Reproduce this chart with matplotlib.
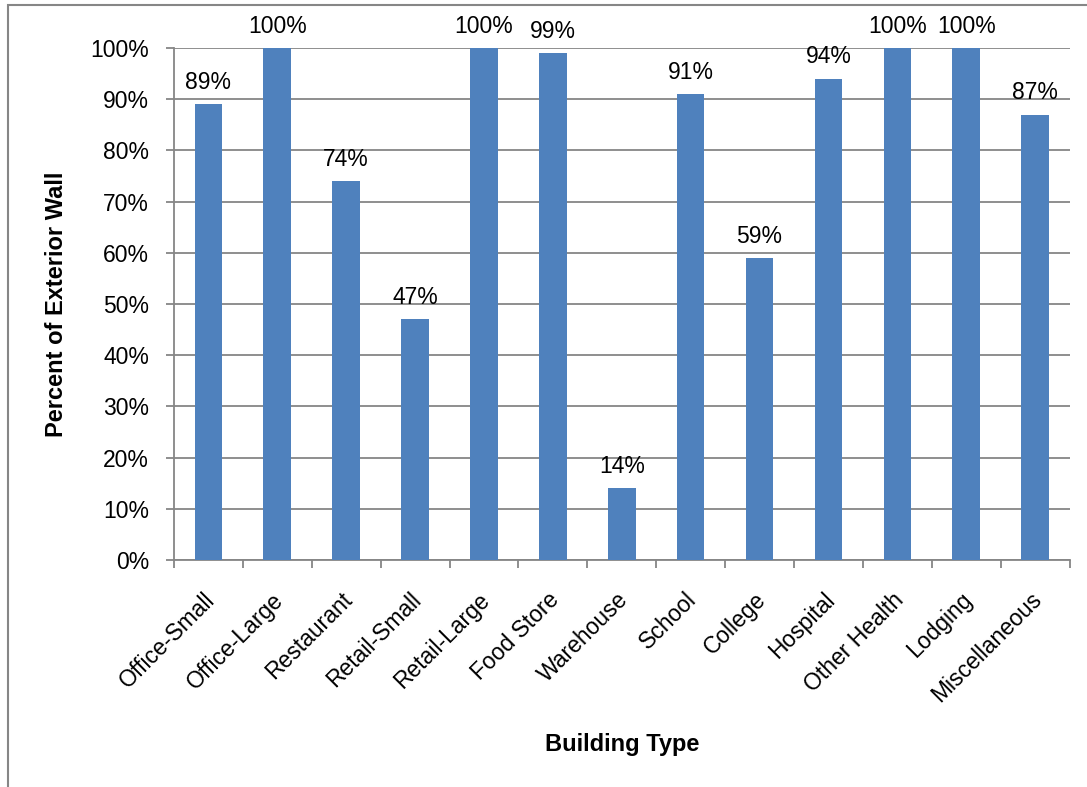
import matplotlib.pyplot as plt
from matplotlib.patches import Rectangle

plt.rcParams['font.family'] = ['Liberation Sans', 'DejaVu Sans']

building_types = ['Office-Small', 'Office-Large', 'Restaurant', 'Retail-Small',
                  'Retail-Large', 'Food Store', 'Warehouse', 'School', 'College',
                  'Hospital', 'Other Health', 'Lodging', 'Miscellaneous']
percent_wall = [89, 100, 74, 47, 100, 99, 14, 91, 59, 94, 100, 100, 87]

fig = plt.figure(figsize=(10.87, 7.87), dpi=100)
ax = fig.add_axes([0.160, 0.2884, 0.824, 0.6506])

x = list(range(len(building_types)))
bars = ax.bar(x, percent_wall, width=0.4, color='#4F81BD', zorder=3)

# data labels above each bar
for xi, v in zip(x, percent_wall):
    ax.text(xi, v + 2.0, f'{v}%', ha='center', va='bottom', fontsize=16.5, clip_on=False)

ax.set_xlim(-0.5, len(building_types) - 0.5)
ax.set_ylim(0, 100)
ax.set_yticks(range(0, 101, 10))
ax.set_yticklabels([f'{t}%' for t in range(0, 101, 10)], fontsize=16.5)
ax.yaxis.grid(True, color='#868686', linewidth=1.3, zorder=0)

# category ticks sit between bars
ax.set_xticks([i + 0.5 for i in range(-1, len(building_types))], minor=False)
ax.set_xticklabels([])
ax.tick_params(axis='x', length=5.8, width=1.3, color='#868686')
ax.tick_params(axis='y', length=5.8, width=1.3, color='#868686', pad=12)
for xi, name in zip(x, building_types):
    ax.text(xi - 0.08, -5.5, name, rotation=45, ha='right', va='top',
            rotation_mode='anchor', fontsize=16.5, transform=ax.transData)

for s in ['top', 'right']:
    ax.spines[s].set_visible(False)
for s in ['left', 'bottom']:
    ax.spines[s].set_color('#868686')
    ax.spines[s].set_linewidth(1.3)

fig.text(622 / 1087, 1 - 745 / 787, 'Building Type', ha='center', va='center',
         fontsize=17, fontweight='bold')
fig.text(57 / 1087, 1 - 304 / 787, 'Percent of Exterior Wall', ha='center', va='center',
         rotation=90, fontsize=17, fontweight='bold')

# chart area border
fig.add_artist(Rectangle((8 / 1087, -0.1), 1.2, 0.1 + 1 - 5 / 787, transform=fig.transFigure,
                         fill=False, edgecolor='#868686', linewidth=1.5))

fig.savefig('out.png', dpi=100)
